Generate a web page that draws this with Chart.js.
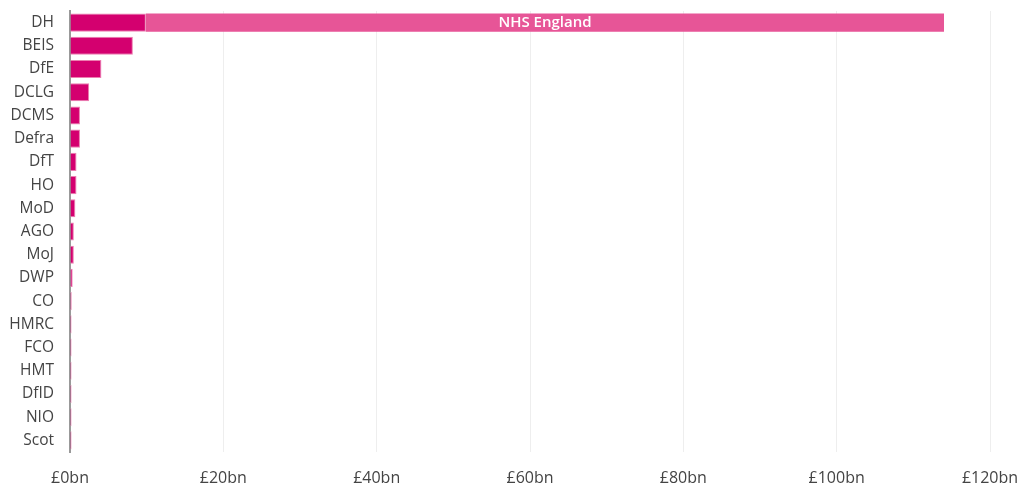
<!DOCTYPE html>
<html lang="en">
<head>
    <meta charset="UTF-8">
    <title>Spend by department</title>
    <script src="https://cdn.jsdelivr.net/npm/chart.js"></script>
    <style>
        body { margin: 0; background: #fff; }
        #wrap { width: 1017px; height: 483px; position: relative; }
    </style>
</head>
<body>
    <div id="wrap"><canvas id="spendChart"></canvas></div>
    <script>
        const departments = ['DH', 'BEIS', 'DfE', 'DCLG', 'DCMS', 'Defra', 'DfT', 'HO', 'MoD', 'AGO', 'MoJ', 'DWP', 'CO', 'HMRC', 'FCO', 'HMT', 'DfID', 'NIO', 'Scot'];
        const departmentSpend = [9.9, 8.2, 4.1, 2.5, 1.3, 1.3, 0.85, 0.85, 0.7, 0.5, 0.5, 0.35, 0.22, 0.2, 0.2, 0.2, 0.2, 0.2, 0.2];
        const nhsEnglandSpend = [104.1, null, null, null, null, null, null, null, null, null, null, null, null, null, null, null, null, null, null];
        const xTicks = [0, 20, 40, 60, 80, 100, 120];

        // write the NHS England name inside its segment
        const segmentLabel = {
            id: 'segmentLabel',
            afterDatasetsDraw(chart) {
                const ctx = chart.ctx;
                const bar = chart.getDatasetMeta(1).data[0];
                ctx.save();
                ctx.font = '600 15px "Open Sans"';
                ctx.fillStyle = '#fff';
                ctx.textAlign = 'center';
                ctx.textBaseline = 'middle';
                ctx.fillText(chart.data.datasets[1].label, (bar.x + bar.base) / 2, bar.y);
                ctx.restore();
            }
        };

        new Chart(document.getElementById('spendChart'), {
            type: 'bar',
            data: {
                labels: departments,
                datasets: [{
                    label: 'Department',
                    data: departmentSpend,
                    backgroundColor: '#d4006f',
                    borderColor: '#ec7fb0',
                    borderWidth: 1,
                    barPercentage: 0.78,
                    categoryPercentage: 1
                }, {
                    label: 'NHS England',
                    data: nhsEnglandSpend,
                    backgroundColor: '#e75597',
                    borderWidth: 0,
                    barPercentage: 0.78,
                    categoryPercentage: 1
                }]
            },
            options: {
                indexAxis: 'y',
                responsive: true,
                maintainAspectRatio: false,
                animation: false,
                layout: { padding: 0 },
                plugins: { legend: { display: false }, tooltip: { enabled: false } },
                scales: {
                    x: {
                        stacked: true,
                        min: 0,
                        max: 120,
                        afterBuildTicks: s => { s.ticks = xTicks.map(v => ({ value: v })); },
                        afterFit: s => { s.height = 31; s.paddingLeft = 0; s.paddingRight = 27; },
                        grid: { color: '#eeeeee', drawTicks: false },
                        border: { display: false },
                        ticks: {
                            padding: 17,
                            color: '#444',
                            font: { family: 'Open Sans', size: 16 },
                            callback: v => '£' + v + 'bn'
                        }
                    },
                    y: {
                        stacked: true,
                        afterFit: s => { s.width = 70; s.paddingTop = 11; s.paddingBottom = 0; },
                        grid: { display: false, drawTicks: false },
                        border: { display: true, color: '#999', width: 2 },
                        ticks: {
                            padding: 16,
                            color: '#444',
                            font: { family: 'Open Sans', size: 15.5 }
                        }
                    }
                }
            },
            plugins: [segmentLabel]
        });
    </script>
</body>
</html>
